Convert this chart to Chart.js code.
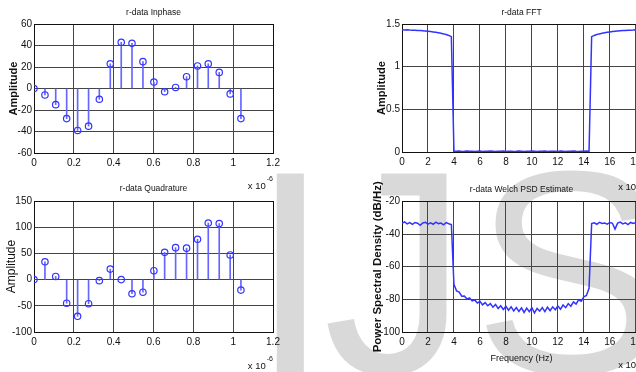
<!DOCTYPE html>
<html>
<head>
<meta charset="utf-8">
<script src="https://cdn.jsdelivr.net/npm/chart.js@4.4.1/dist/chart.umd.min.js"></script>
<style>
html, body { margin: 0; padding: 0; background: #fff; overflow: hidden; }
#wrap { position: relative; width: 636px; height: 372px; overflow: hidden; background: #fff; }
.mark { position: absolute; top: 127px; font: 290px/290px 'Liberation Sans', Arial, sans-serif; color: #d9d9d9; }
canvas { position: absolute; }
</style>
</head>
<body>
<div id="wrap">
  <div class="mark" style="left:250px">I</div>
  <div class="mark" style="left:323px">J</div>
  <div class="mark" style="left:473px">S</div>
  <canvas id="inphase" width="300" height="190" style="left:0;top:0"></canvas>
  <canvas id="quadrature" width="300" height="194" style="left:0;top:178px"></canvas>
  <canvas id="fft" width="340" height="190" style="left:320px;top:0"></canvas>
  <canvas id="psd" width="340" height="194" style="left:320px;top:178px"></canvas>
</div>
<script>
// sample instants, x 10^-6 s
const sampleTimes = [0, 0.055, 0.109, 0.164, 0.219, 0.274, 0.328, 0.383, 0.438, 0.492,
                     0.547, 0.602, 0.656, 0.711, 0.766, 0.821, 0.875, 0.930, 0.985, 1.039];
const inphase = [0, -6, -15, -28, -39, -35, -10, 23, 43, 42, 25, 6, -3, 1, 11, 21, 23, 15, -5, -28];
const quadrature = [0, 34, 6, -45, -70, -46, -2, 20, 0, -27, -24, 17, 52, 61, 60, 77, 108, 107, 47, -20];

// spectrum bins, x 10^6 Hz, one every 0.2
const freqStep = 0.2;
const fftMag = [
  1.432, 1.431, 1.433, 1.429, 1.428, 1.427, 1.425, 1.424, 1.421, 1.418,
  1.415, 1.411, 1.407, 1.402, 1.397, 1.391, 1.384, 1.376, 1.366, 1.352,
  0.010, 0.008, 0.011, 0.007, 0.009, 0.012, 0.008, 0.010, 0.006, 0.009,
  0.011, 0.007, 0.010, 0.008, 0.012, 0.009, 0.006, 0.010, 0.008, 0.011,
  0.007, 0.009, 0.010, 0.006, 0.008, 0.011, 0.009, 0.007, 0.010, 0.008,
  0.012, 0.009, 0.006, 0.010, 0.008, 0.011, 0.007, 0.009, 0.010, 0.008,
  0.006, 0.011, 0.009, 0.007, 0.010, 0.008, 0.012, 0.009, 0.007, 0.010,
  0.008, 0.011, 0.009,
  1.352, 1.366, 1.376, 1.384, 1.391, 1.397, 1.402, 1.407, 1.411, 1.415,
  1.418, 1.421, 1.424, 1.425, 1.427, 1.428, 1.429, 1.433, 1.431, 1.432
];
const psdDb = [
  -33.5, -32.6, -33.8, -33.0, -34.1, -32.9, -33.4, -34.6, -33.2, -32.8,
  -33.9, -33.1, -34.0, -32.7, -33.6, -33.3, -34.4, -33.0, -33.7, -34.2,
  -71.0, -74.8, -75.6, -78.1, -77.9, -79.8, -79.1, -81.0, -80.4, -82.3,
  -81.2, -83.4, -82.0, -83.9, -82.6, -84.8, -83.1, -85.6, -83.9, -86.2,
  -84.3, -86.7, -84.6, -87.1, -85.0, -87.4, -85.2, -88.0, -85.4, -87.6,
  -85.1, -88.3, -85.6, -87.2, -85.0, -87.5, -84.8, -87.0, -84.6, -86.4,
  -84.1, -86.0, -83.5, -85.1, -82.6, -84.2, -81.6, -82.9, -80.3, -81.1,
  -78.4, -77.6, -73.2,
  -33.6, -33.1, -34.0, -32.8, -33.5, -33.2, -33.9, -32.9, -33.4, -37.0,
  -33.3, -32.7, -33.8, -33.1, -34.2, -32.9, -33.5, -33.0, -33.7, -33.2
];
const timeTicks = { min: 0, max: 1.2, step: 0.2 };
const freqTicks = { min: 0, max: 18.4, step: 2 };

const INK = '#111';
const GRID = '#454545';
const BLUE = '#3333ff';
const STEM = '#6666ff';
const SANS = "'Liberation Sans', Arial, sans-serif";

// the MATLAB style "x 10^n" multiplier under the right end of the x axis
const exponentLabel = {
    id: 'exponentLabel',
    afterDraw(chart, args, opts) {
        if (!opts.sup) return;
        let ctx = chart.ctx;
        let right = chart.chartArea.right;
        ctx.save();
        ctx.fillStyle = INK;
        ctx.textAlign = 'right';
        ctx.textBaseline = 'middle';
        ctx.font = '7px ' + SANS;
        let supW = ctx.measureText(opts.sup).width;
        ctx.fillText(opts.sup, right, opts.y - 7);
        ctx.font = '9.5px ' + SANS;
        ctx.fillText('x 10', right - supW - 1, opts.y);
        ctx.restore();
    }
};

function points(xs, ys) {
    return ys.map((y, i) => ({x: xs[i], y: y}));
}

function gridColor(c) {
    return c.tick && c.tick.value === c.scale.max ? INK : GRID;
}

function xAxis(range, height, title) {
    return {
        type: 'linear',
        min: range.min,
        max: range.max,
        offset: false,
        ticks: {
            stepSize: range.step,
            includeBounds: false,
            autoSkip: false,
            maxRotation: 0,
            padding: 4,
            color: INK,
            font: {family: SANS, size: 10},
            callback: v => String(+v.toFixed(1))
        },
        grid: {color: gridColor, drawTicks: false, offset: false},
        border: {color: INK},
        title: title || {display: false},
        afterFit: s => { s.height = height; }
    };
}

function yAxis(min, max, step, width, title) {
    return {
        type: 'linear',
        min: min,
        max: max,
        ticks: {
            stepSize: step,
            padding: 2,
            color: INK,
            font: {family: SANS, size: 10},
            callback: v => String(+v.toFixed(1))
        },
        grid: {color: gridColor, drawTicks: false},
        border: {color: INK},
        title: title,
        afterFit: s => { s.width = width; }
    };
}

function chartTitle(text, top, bottom) {
    return {
        display: true,
        text: text,
        fullSize: false,
        color: INK,
        font: {family: SANS, size: 8.5, weight: 'normal'},
        padding: {top: top, bottom: bottom}
    };
}

function stemChart(id, values, cfg) {
    return new Chart(document.getElementById(id), {
        type: 'scatter',
        data: {
            datasets: [{
                type: 'scatter',
                data: points(sampleTimes, values),
                pointRadius: 3.2,
                borderWidth: 1.2,
                borderColor: BLUE,
                backgroundColor: 'rgba(0,0,0,0)'
            }, {
                type: 'bar',
                data: points(sampleTimes, values),
                barThickness: 1,
                backgroundColor: STEM
            }]
        },
        options: {
            responsive: false,
            animation: false,
            events: [],
            layout: {padding: {left: 0, right: 27, top: 0, bottom: 0}},
            plugins: {
                legend: {display: false},
                tooltip: {enabled: false},
                title: chartTitle(cfg.title, cfg.titlePad[0], cfg.titlePad[1]),
                exponentLabel: {sup: '-6', y: cfg.expY}
            },
            scales: {
                x: xAxis(timeTicks, cfg.xHeight),
                y: yAxis(cfg.yMin, cfg.yMax, cfg.yStep, 34, cfg.yTitle)
            }
        },
        plugins: [exponentLabel]
    });
}

function spectrumChart(id, values, cfg) {
    let freqs = values.map((v, i) => i * freqStep);
    return new Chart(document.getElementById(id), {
        type: 'line',
        data: {
            datasets: [{
                data: points(freqs, values),
                borderColor: BLUE,
                borderWidth: 1.5,
                pointRadius: 0,
                tension: 0
            }]
        },
        options: {
            responsive: false,
            animation: false,
            events: [],
            layout: {padding: {left: 48, right: 19, top: 0, bottom: 0}},
            plugins: {
                legend: {display: false},
                tooltip: {enabled: false},
                title: chartTitle(cfg.title, cfg.titlePad[0], cfg.titlePad[1]),
                exponentLabel: {sup: '6', y: cfg.expY}
            },
            scales: {
                x: xAxis(freqTicks, cfg.xHeight, cfg.xTitle),
                y: yAxis(cfg.yMin, cfg.yMax, cfg.yStep, 34, cfg.yTitle)
            }
        },
        plugins: [exponentLabel]
    });
}

stemChart('inphase', inphase, {
    title: 'r-data Inphase', titlePad: [7.5, 6.3], xHeight: 37, expY: 186,
    yMin: -60, yMax: 60, yStep: 20,
    yTitle: {display: true, text: 'Amplitude', color: INK,
             font: {family: SANS, size: 11, weight: 'bold'}, padding: {top: 7.4, bottom: 0}}
});

stemChart('quadrature', quadrature, {
    title: 'r-data Quadrature', titlePad: [5.5, 7.3], xHeight: 40, expY: 188,
    yMin: -100, yMax: 150, yStep: 50,
    yTitle: {display: true, text: 'Amplitude', color: INK,
             font: {family: SANS, size: 12, weight: 'normal'}, padding: {top: 4.3, bottom: 0}}
});

spectrumChart('fft', fftMag, {
    title: 'r-data FFT', titlePad: [7.5, 6.3], xHeight: 38, expY: 187,
    yMin: 0, yMax: 1.5, yStep: 0.5,
    yTitle: {display: true, text: 'Amplitude', color: INK,
             font: {family: SANS, size: 11, weight: 'bold'}, padding: {top: 7.4, bottom: 0}}
});

spectrumChart('psd', psdDb, {
    title: 'r-data Welch PSD Estimate', titlePad: [6.5, 6.7], xHeight: 40, expY: 187,
    xTitle: {display: true, text: 'Frequency (Hz)', color: INK,
             font: {family: SANS, size: 9}, padding: {top: 0, bottom: 8.5}},
    yMin: -100, yMax: -20, yStep: 20,
    yTitle: {display: true, text: 'Power Spectral Density (dB/Hz)', color: INK,
             font: {family: SANS, size: 11.5, weight: 'bold'}, padding: {top: 3, bottom: 0}}
});
</script>
</body>
</html>
